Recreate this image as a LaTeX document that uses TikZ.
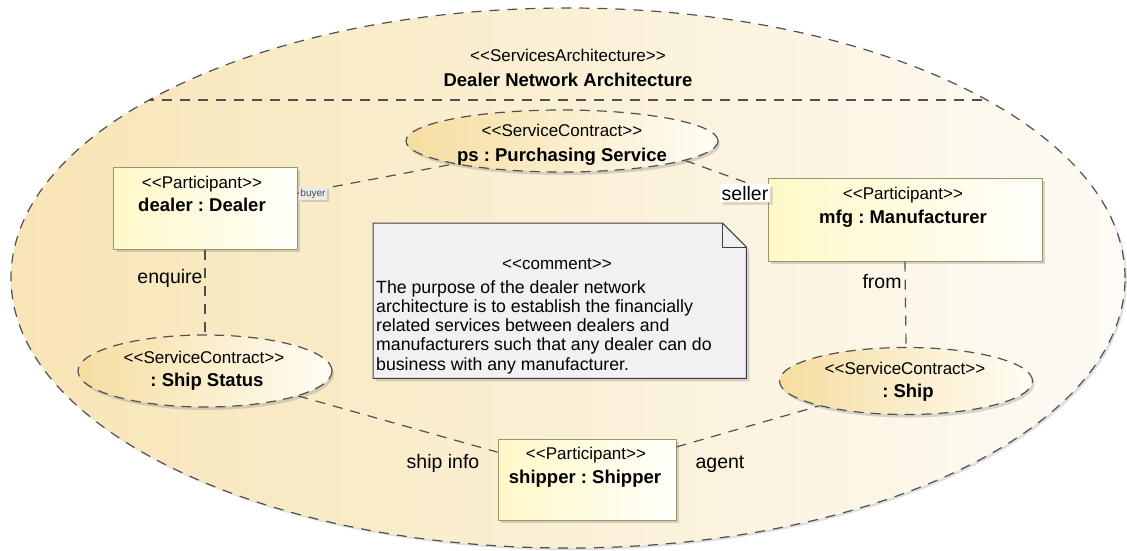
\documentclass[tikz,border=0pt]{standalone}
\usepackage{fontspec}
\setmainfont{Liberation Sans}
\usetikzlibrary{shapes.geometric}
\usetikzlibrary{shadows}
\definecolor{archL}{RGB}{248,229,182}
\definecolor{archR}{RGB}{253,251,245}
\definecolor{partL}{RGB}{255,248,200}
\definecolor{partR}{RGB}{255,255,250}
\definecolor{partD}{RGB}{150,150,105}
\definecolor{contL}{RGB}{246,221,160}
\definecolor{contR}{RGB}{255,253,245}
\definecolor{noteF}{RGB}{241,241,243}
\definecolor{lnk}{RGB}{80,80,80}
\newcommand{\stereo}[1]{<\kern0pt<#1>\kern0pt>}

\begin{document}
\frenchspacing
\begin{tikzpicture}[line join=round,x=1pt,y=-1pt,
  link/.style={draw=lnk,line width=1.2pt,dash pattern=on 10pt off 8pt},
  part/.style={rectangle,draw=partD,line width=1pt,left color=partL,right color=partR,inner sep=0pt,drop shadow={shadow xshift=3pt,shadow yshift=-3pt,opacity=0.3}},
  contract/.style={ellipse,draw=lnk,line width=1.2pt,dash pattern=on 10pt off 7pt,left color=contL,right color=contR,inner sep=0pt,drop shadow={shadow xshift=2pt,shadow yshift=-3pt,opacity=0.3}},
  st/.style={anchor=base,inner sep=0pt,font=\fontsize{17}{19}\selectfont},
  nm/.style={anchor=base,inner sep=0pt,font=\fontsize{18.5}{21}\selectfont\bfseries},
  role/.style={anchor=base,inner sep=0pt,font=\fontsize{19.5}{22}\selectfont}]
\useasboundingbox (0,0) rectangle (1127,550);
% services architecture
\path [draw=lnk,line width=1.2pt,dash pattern=on 10pt off 8pt,left color=archL,right color=archR,drop shadow={shadow xshift=2pt,shadow yshift=-2pt,opacity=0.25}] (568,278) ellipse [x radius=557pt,y radius=270pt];
\begin{scope}
\clip (568,278) ellipse [x radius=557pt,y radius=270pt];
\draw [link] (0,100)-- (1127,100);
\end{scope}
\draw (568,61) node[st] (archst) {\stereo{ServicesArchitecture}};
\draw (568,86.5) node[nm] (archnm) {Dealer Network Architecture};
% contracts
\node [contract,minimum width=312pt,minimum height=62pt] (ps) at (562,141) {};
\node [contract,minimum width=254pt,minimum height=72pt] (shipstatus) at (205,371) {};
\node [contract,minimum width=253pt,minimum height=67pt] (ship) at (906,381) {};
\draw (562,136) node[st] (psst) {\stereo{ServiceContract}};
\draw (562,161.5) node[nm] (psnm) {ps : Purchasing Service};
\draw (204,363) node[st] (shipstatusst) {\stereo{ServiceContract}};
\draw (207,386.5) node[nm] (shipstatusnm) {: Ship Status};
\draw (905,374) node[st] (shipst) {\stereo{ServiceContract}};
\draw (908,397.5) node[nm] (shipnm) {: Ship};
% participants
\node [part,minimum width=184pt,minimum height=82pt] (dealer) at (205,208) {};
\node [part,minimum width=274pt,minimum height=83pt] (mfg) at (905,219.5) {};
\node [part,minimum width=178pt,minimum height=81pt] (shipper) at (587,479.5) {};
\draw (202,188) node[st] (dealerst) {\stereo{Participant}};
\draw (202,211.5) node[nm] (dealernm) {dealer : Dealer};
\draw (903,199) node[st] (mfgst) {\stereo{Participant}};
\draw (903,223.5) node[nm] (mfgnm) {mfg : Manufacturer};
\draw (586,459) node[st] (shipperst) {\stereo{Participant}};
\draw (585,483.5) node[nm] (shippernm) {shipper : Shipper};
% comment
\node [rectangle,minimum width=373pt,minimum height=155pt,inner sep=0pt,anchor=north west] (note) at (373,223) {};
\draw [draw=black!75,line width=1pt,fill=noteF,drop shadow={shadow xshift=3pt,shadow yshift=-3pt,opacity=0.3}] (note.north west)-- ([xshift=-24pt]note.north east)-- ([yshift=-24pt]note.north east)-- (note.south east)-- (note.south west)-- cycle;
\draw [draw=black!75,line width=1pt] ([xshift=-24pt]note.north east)-- ([xshift=-24pt,yshift=-24pt]note.north east)-- ([yshift=-24pt]note.north east);
\draw (557,269) node[st] (notest) {\stereo{comment}};
\draw (376,280) node[anchor=north west,inner sep=0pt,align=left,font=\fontsize{17.7}{19.3}\selectfont] (notetx) {The purpose of the dealer network\\architecture is to establish the financially\\related services between dealers and\\manufacturers such that any dealer can do\\business with any manufacturer.};
% connectors
\draw [link] (dealer.9)-- (ps.192);
\draw [link] (ps.-9)-- (mfg.168);
\draw [link] (dealer.south)-- (shipstatus.north);
\draw [link] (mfg.south)-- (ship.north);
\draw [link] (shipstatus.-15)-- (shipper.163);
\draw [link] (shipper.20)-- (ship.196);
% roles
\draw (313,196) node[anchor=base,inner sep=1.5pt,fill=white!92!black,text=black!70,font=\fontsize{10}{11}\selectfont,drop shadow={shadow xshift=2pt,shadow yshift=-2pt,opacity=0.3}] (buyer) {buyer};
\draw (745,200) node[role,inner sep=1.5pt,fill=white,drop shadow={shadow xshift=3pt,shadow yshift=-3pt,opacity=0.25}] (seller) {seller};
\draw (170,283) node[role] (enquire) {enquire};
\draw (882,288) node[role] (from) {from};
\draw (443,468) node[role] (shipinfo) {ship info};
\draw (720,468) node[role] (agent) {agent};
\end{tikzpicture}
\end{document}
